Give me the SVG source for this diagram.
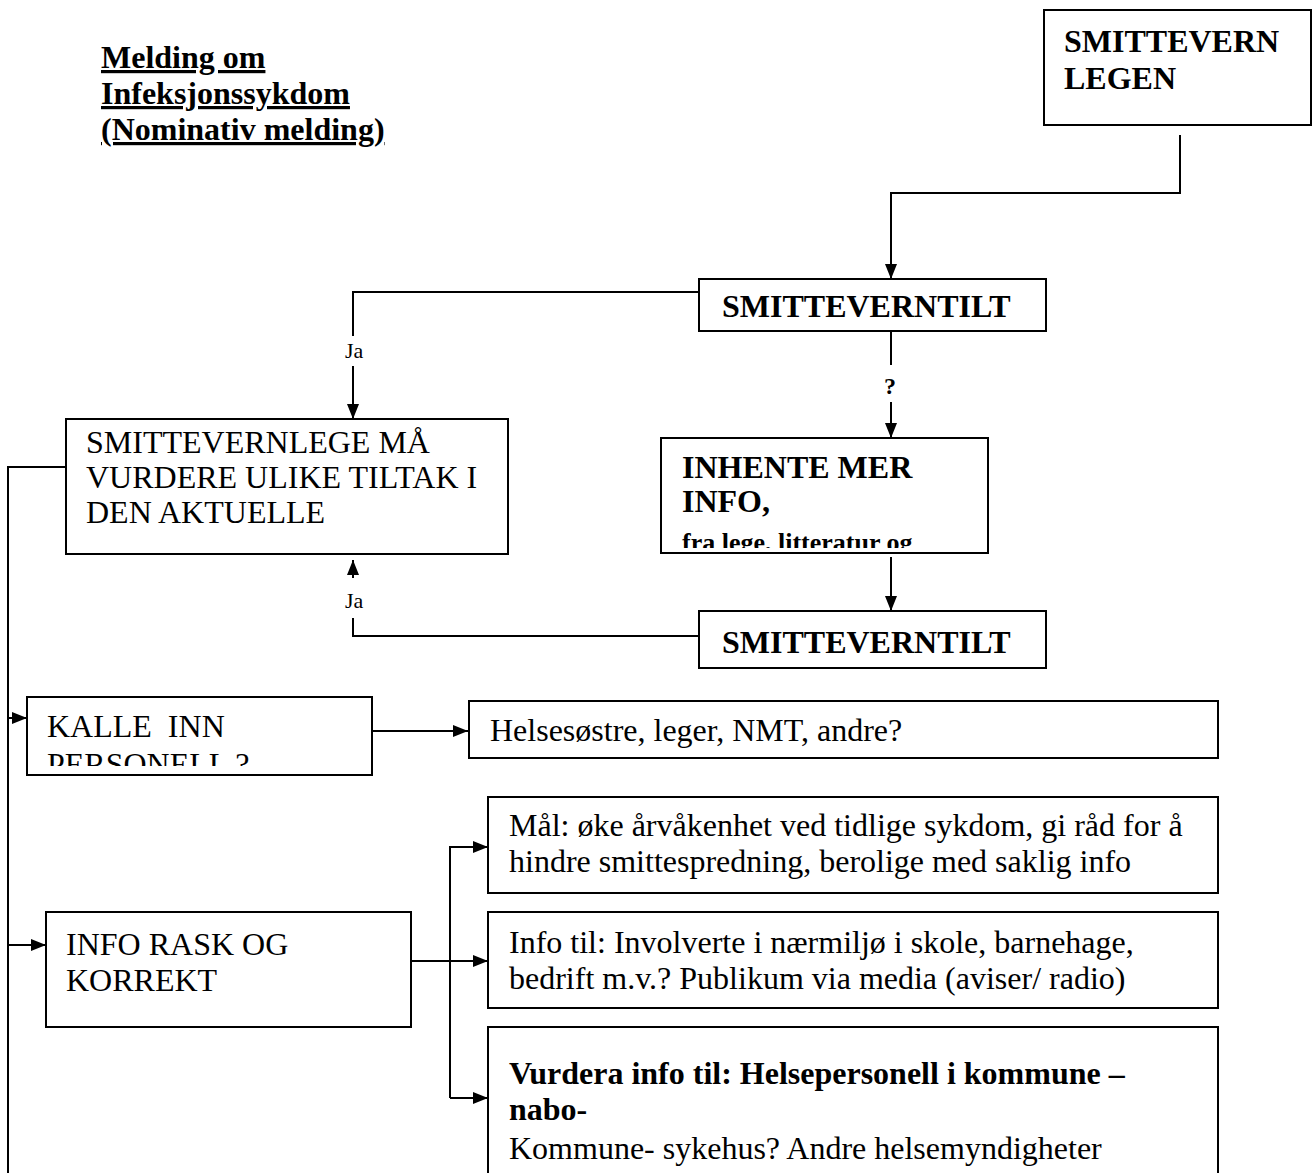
<svg xmlns="http://www.w3.org/2000/svg" width="1312" height="1173" viewBox="0 0 1312 1173">
<style>
.box{fill:#fff;stroke:#000;stroke-width:2}
.cn{fill:none;stroke:#000;stroke-width:2}
.t{font-family:"Liberation Serif","Times New Roman",serif;font-size:32px;fill:#000}
.b{font-weight:bold}
.lbl{font-family:"Liberation Serif","Times New Roman",serif;font-size:22px;fill:#000}
</style>
<defs>
<marker id="ah" viewBox="0 0 15 12" refX="15" refY="6" markerWidth="15" markerHeight="12" markerUnits="userSpaceOnUse" orient="auto">
<path d="M0,0 L15,6 L0,12 Z" fill="#000"/>
</marker>
<clipPath id="cInh"><rect x="661" y="438" width="327" height="110"/></clipPath>
<clipPath id="cKal"><rect x="27" y="697" width="345" height="69"/></clipPath>
</defs>
<rect width="1312" height="1173" fill="#fff"/>

<g id="title">
<text class="t b" x="101" y="68" text-decoration="underline">Melding om</text>
<text class="t b" x="101" y="104" text-decoration="underline">Infeksjonssykdom</text>
<text class="t b" x="101" y="140" text-decoration="underline">(Nominativ melding)</text>
</g>

<g id="connectors">
<path class="cn" d="M1180,135 V193 H891 V279" marker-end="url(#ah)"/>
<path class="cn" d="M699,292 H353 V336"/>
<path class="cn" d="M353,366 V419" marker-end="url(#ah)"/>
<text class="lbl" x="345" y="358">Ja</text>
<path class="cn" d="M891,331 V365"/>
<text class="lbl b" x="884" y="394" style="font-size:24px">?</text>
<path class="cn" d="M891,402 V438" marker-end="url(#ah)"/>
<path class="cn" d="M891,557 V611" marker-end="url(#ah)"/>
<path class="cn" d="M699,636 H353 V618"/>
<text class="lbl" x="345" y="608">Ja</text>
<path class="cn" d="M353,578 V560" marker-end="url(#ah)"/>
<path class="cn" d="M66,467 H8 V1173"/>
<path class="cn" d="M8,718 H27" marker-end="url(#ah)"/>
<path class="cn" d="M8,945 H46" marker-end="url(#ah)"/>
<path class="cn" d="M372,731 H468" marker-end="url(#ah)"/>
<path class="cn" d="M411,961 H488" marker-end="url(#ah)"/>
<path class="cn" d="M450,1098 V847 H488" marker-end="url(#ah)"/>
<path class="cn" d="M450,1098 H488" marker-end="url(#ah)"/>
</g>

<g id="smittevernlegen">
<rect class="box" x="1044" y="10" width="267" height="115"/>
<text class="t b" x="1064" y="52">SMITTEVERN</text>
<text class="t b" x="1064" y="89">LEGEN</text>
</g>

<g id="smitteverntilt1">
<rect class="box" x="699" y="279" width="347" height="52"/>
<text class="t b" x="722" y="317">SMITTEVERNTILT</text>
</g>

<g id="vurdere">
<rect class="box" x="66" y="419" width="442" height="135"/>
<text class="t" x="86" y="453">SMITTEVERNLEGE MÅ</text>
<text class="t" x="86" y="488">VURDERE ULIKE TILTAK I</text>
<text class="t" x="86" y="523">DEN AKTUELLE</text>
</g>

<g id="inhente">
<rect class="box" x="661" y="438" width="327" height="115"/>
<text class="t b" x="682" y="478">INHENTE MER</text>
<text class="t b" x="682" y="512">INFO,</text>
<text class="t b" x="682" y="551" clip-path="url(#cInh)" style="font-size:26px">fra lege, litteratur og</text>
</g>

<g id="smitteverntilt2">
<rect class="box" x="699" y="611" width="347" height="57"/>
<text class="t b" x="722" y="653">SMITTEVERNTILT</text>
</g>

<g id="kalle">
<rect class="box" x="27" y="697" width="345" height="78"/>
<text class="t" x="47" y="737" xml:space="preserve">KALLE  INN</text>
<text class="t" x="47" y="775" clip-path="url(#cKal)">PERSONELL ?</text>
</g>

<g id="helsesostre">
<rect class="box" x="469" y="701" width="749" height="57"/>
<text class="t" x="490" y="741">Helsesøstre, leger, NMT, andre?</text>
</g>

<g id="inforask">
<rect class="box" x="46" y="912" width="365" height="115"/>
<text class="t" x="66" y="955">INFO RASK OG</text>
<text class="t" x="66" y="991">KORREKT</text>
</g>

<g id="maal">
<rect class="box" x="488" y="797" width="730" height="96"/>
<text class="t" x="509" y="836">Mål: øke årvåkenhet ved tidlige sykdom, gi råd for å</text>
<text class="t" x="509" y="872">hindre smittespredning, berolige med saklig info</text>
</g>

<g id="infotil">
<rect class="box" x="488" y="912" width="730" height="96"/>
<text class="t" x="509" y="953">Info til: Involverte i nærmiljø i skole, barnehage,</text>
<text class="t" x="509" y="989">bedrift m.v.? Publikum via media (aviser/ radio)</text>
</g>

<g id="vurdera">
<rect class="box" x="488" y="1027" width="730" height="160"/>
<text class="t b" x="509" y="1084">Vurdera info til: Helsepersonell i kommune –</text>
<text class="t b" x="509" y="1120">nabo-</text>
<text class="t" x="509" y="1159">Kommune- sykehus? Andre helsemyndigheter</text>
</g>
</svg>
